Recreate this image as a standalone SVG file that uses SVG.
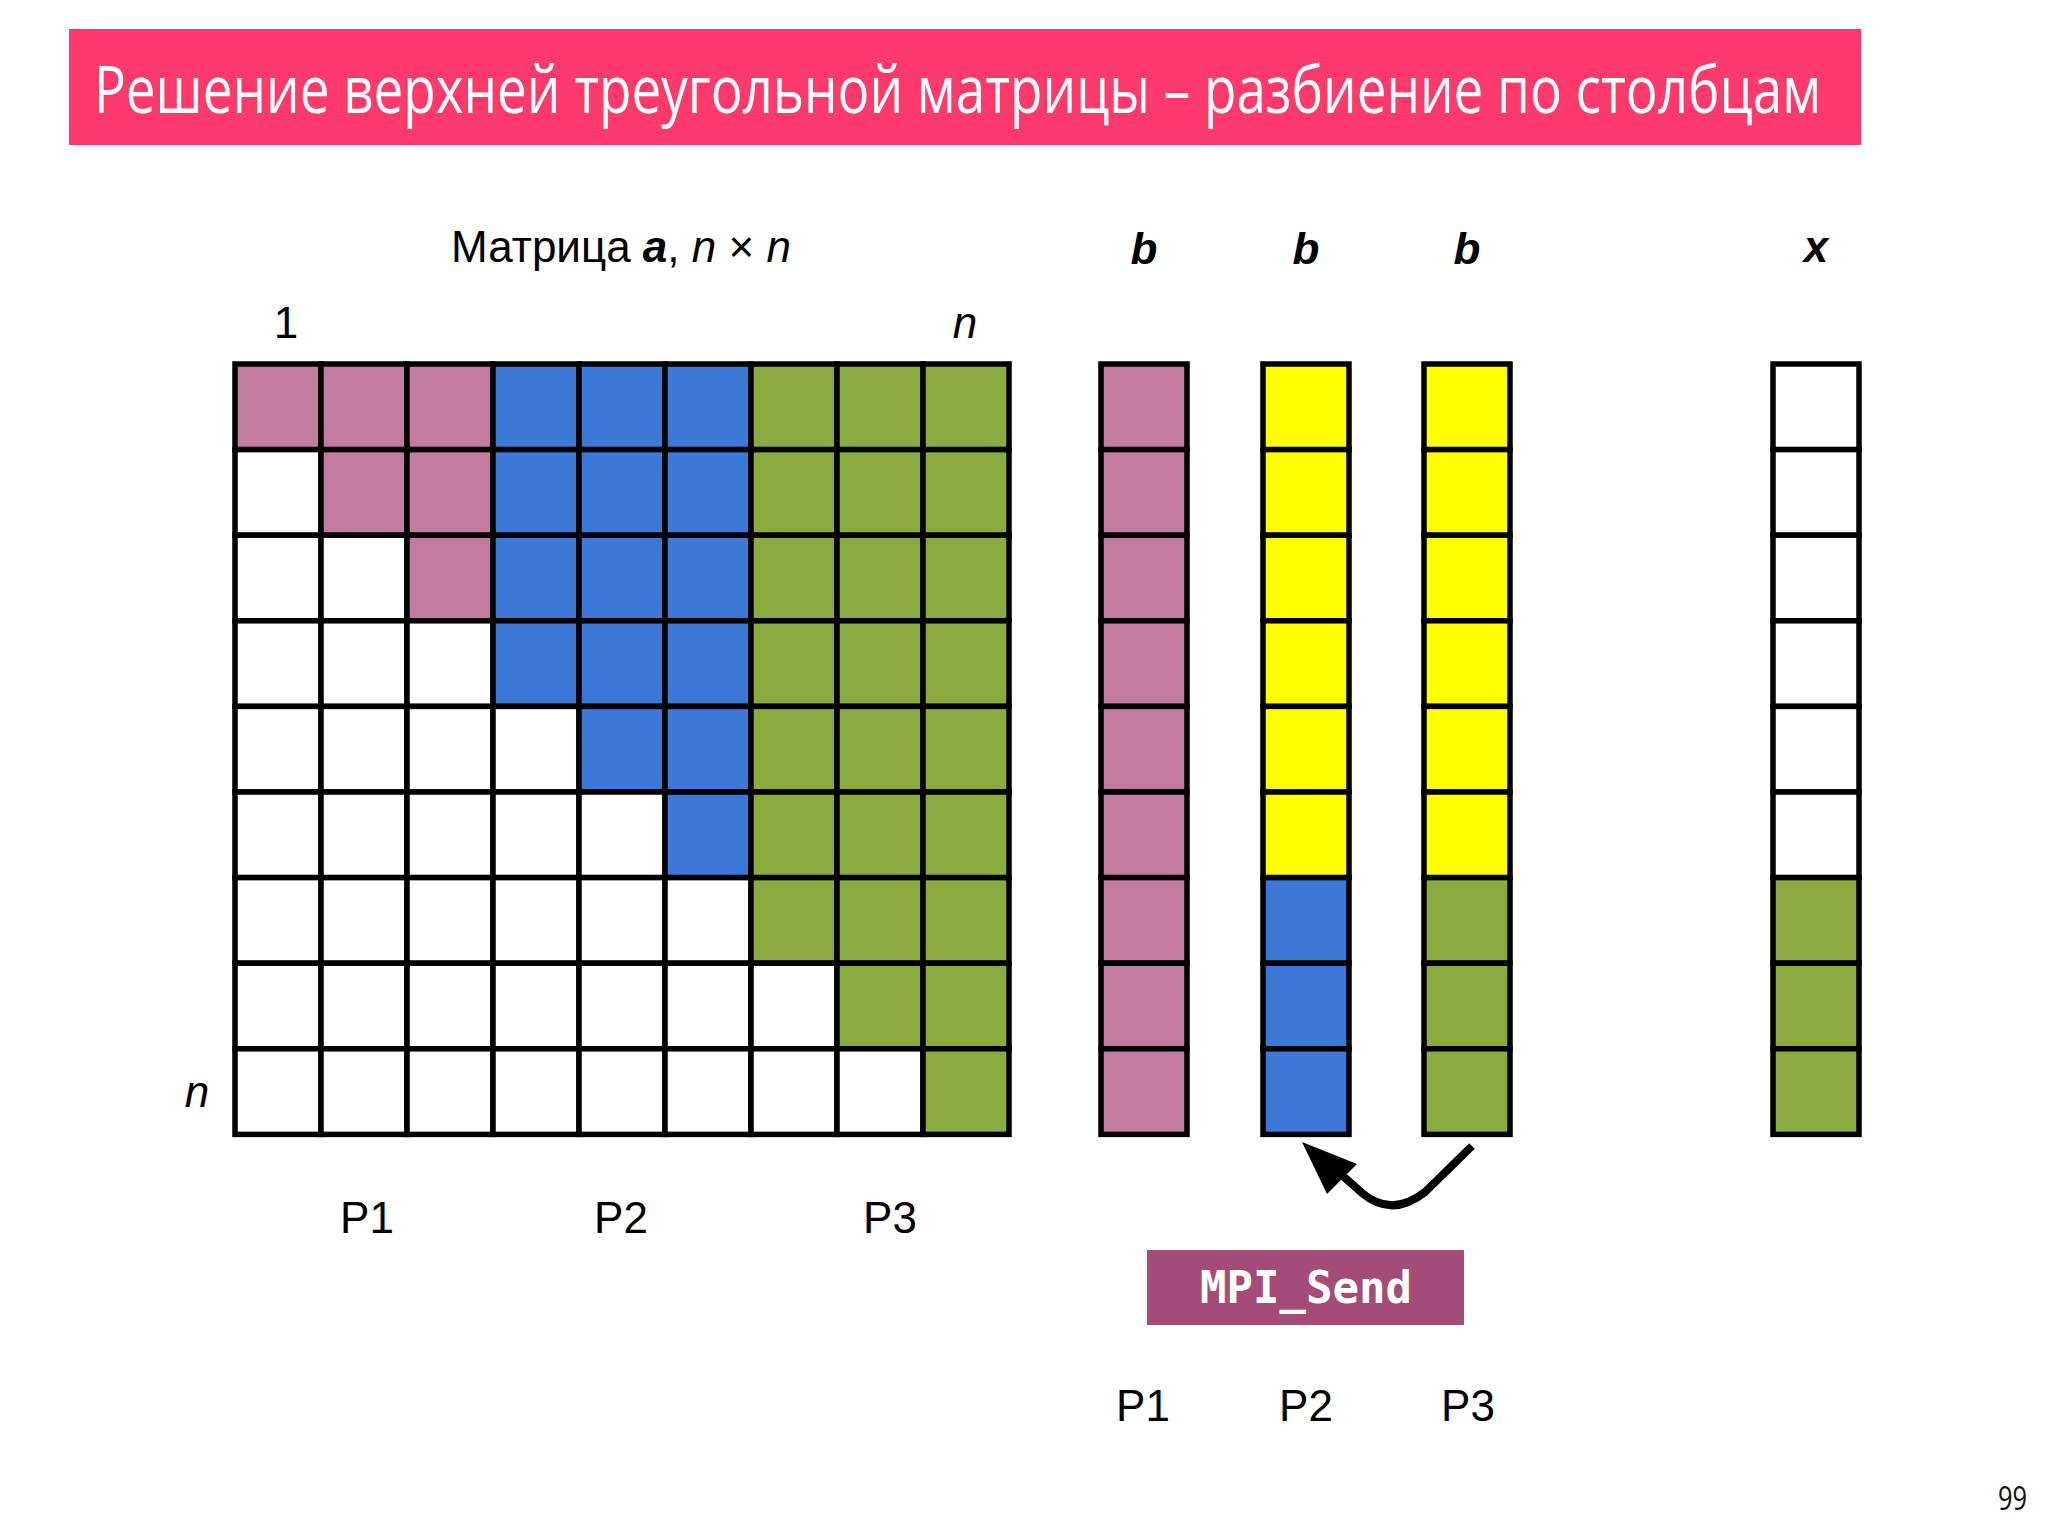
<svg xmlns="http://www.w3.org/2000/svg" width="2048" height="1536" viewBox="0 0 2048 1536">
<style>
.c{stroke:#000;stroke-width:5.5}
.p{fill:#C47BA0}
.bl{fill:#3C78D8}
.g{fill:#8AAB40}
.y{fill:#FFFF00}
.w{fill:#FFFFFF}
.lbl{font-family:"Liberation Sans",Arial,sans-serif;font-size:44px;fill:#000;text-anchor:middle}
.it{font-style:italic}
.bi{font-style:italic;font-weight:bold}
</style>
<rect width="2048" height="1536" fill="#FFFFFF"/>
<g id="title">
<rect x="69" y="29" width="1792" height="116" fill="#FE3A6C"/>
<text x="94" y="113" font-family="'Open Sans','DejaVu Sans',sans-serif" font-size="66" fill="#FFFFFF" textLength="1727" lengthAdjust="spacingAndGlyphs">Решение верхней треугольной матрицы – разбиение по столбцам</text>
</g>
<g id="labels">
<text class="lbl" x="621" y="262">Матрица <tspan font-weight="bold" font-style="italic">a</tspan>, <tspan font-style="italic">n</tspan> × <tspan font-style="italic">n</tspan></text>
<text class="lbl" x="286" y="338">1</text>
<text class="lbl it" x="965" y="338">n</text>
<text class="lbl it" x="197" y="1107">n</text>
<text class="lbl" x="367" y="1233">P1</text>
<text class="lbl" x="621" y="1233">P2</text>
<text class="lbl" x="890" y="1233">P3</text>
<text class="lbl bi" x="1144" y="264">b</text>
<text class="lbl bi" x="1306" y="264">b</text>
<text class="lbl bi" x="1467" y="264">b</text>
<text class="lbl bi" x="1816" y="262">x</text>
<text class="lbl" x="1143" y="1421">P1</text>
<text class="lbl" x="1306" y="1421">P2</text>
<text class="lbl" x="1468" y="1421">P3</text>
</g>
<g id="matrix-a">
<rect class="c p" x="235" y="364" width="86" height="85.6"/><rect class="c p" x="321" y="364" width="86" height="85.6"/><rect class="c p" x="407" y="364" width="86" height="85.6"/><rect class="c bl" x="493" y="364" width="86" height="85.6"/><rect class="c bl" x="579" y="364" width="86" height="85.6"/><rect class="c bl" x="665" y="364" width="86" height="85.6"/><rect class="c g" x="751" y="364" width="86" height="85.6"/><rect class="c g" x="837" y="364" width="86" height="85.6"/><rect class="c g" x="923" y="364" width="86" height="85.6"/>
<rect class="c w" x="235" y="449.6" width="86" height="85.6"/><rect class="c p" x="321" y="449.6" width="86" height="85.6"/><rect class="c p" x="407" y="449.6" width="86" height="85.6"/><rect class="c bl" x="493" y="449.6" width="86" height="85.6"/><rect class="c bl" x="579" y="449.6" width="86" height="85.6"/><rect class="c bl" x="665" y="449.6" width="86" height="85.6"/><rect class="c g" x="751" y="449.6" width="86" height="85.6"/><rect class="c g" x="837" y="449.6" width="86" height="85.6"/><rect class="c g" x="923" y="449.6" width="86" height="85.6"/>
<rect class="c w" x="235" y="535.2" width="86" height="85.6"/><rect class="c w" x="321" y="535.2" width="86" height="85.6"/><rect class="c p" x="407" y="535.2" width="86" height="85.6"/><rect class="c bl" x="493" y="535.2" width="86" height="85.6"/><rect class="c bl" x="579" y="535.2" width="86" height="85.6"/><rect class="c bl" x="665" y="535.2" width="86" height="85.6"/><rect class="c g" x="751" y="535.2" width="86" height="85.6"/><rect class="c g" x="837" y="535.2" width="86" height="85.6"/><rect class="c g" x="923" y="535.2" width="86" height="85.6"/>
<rect class="c w" x="235" y="620.8" width="86" height="85.6"/><rect class="c w" x="321" y="620.8" width="86" height="85.6"/><rect class="c w" x="407" y="620.8" width="86" height="85.6"/><rect class="c bl" x="493" y="620.8" width="86" height="85.6"/><rect class="c bl" x="579" y="620.8" width="86" height="85.6"/><rect class="c bl" x="665" y="620.8" width="86" height="85.6"/><rect class="c g" x="751" y="620.8" width="86" height="85.6"/><rect class="c g" x="837" y="620.8" width="86" height="85.6"/><rect class="c g" x="923" y="620.8" width="86" height="85.6"/>
<rect class="c w" x="235" y="706.4" width="86" height="85.6"/><rect class="c w" x="321" y="706.4" width="86" height="85.6"/><rect class="c w" x="407" y="706.4" width="86" height="85.6"/><rect class="c w" x="493" y="706.4" width="86" height="85.6"/><rect class="c bl" x="579" y="706.4" width="86" height="85.6"/><rect class="c bl" x="665" y="706.4" width="86" height="85.6"/><rect class="c g" x="751" y="706.4" width="86" height="85.6"/><rect class="c g" x="837" y="706.4" width="86" height="85.6"/><rect class="c g" x="923" y="706.4" width="86" height="85.6"/>
<rect class="c w" x="235" y="792" width="86" height="85.6"/><rect class="c w" x="321" y="792" width="86" height="85.6"/><rect class="c w" x="407" y="792" width="86" height="85.6"/><rect class="c w" x="493" y="792" width="86" height="85.6"/><rect class="c w" x="579" y="792" width="86" height="85.6"/><rect class="c bl" x="665" y="792" width="86" height="85.6"/><rect class="c g" x="751" y="792" width="86" height="85.6"/><rect class="c g" x="837" y="792" width="86" height="85.6"/><rect class="c g" x="923" y="792" width="86" height="85.6"/>
<rect class="c w" x="235" y="877.6" width="86" height="85.6"/><rect class="c w" x="321" y="877.6" width="86" height="85.6"/><rect class="c w" x="407" y="877.6" width="86" height="85.6"/><rect class="c w" x="493" y="877.6" width="86" height="85.6"/><rect class="c w" x="579" y="877.6" width="86" height="85.6"/><rect class="c w" x="665" y="877.6" width="86" height="85.6"/><rect class="c g" x="751" y="877.6" width="86" height="85.6"/><rect class="c g" x="837" y="877.6" width="86" height="85.6"/><rect class="c g" x="923" y="877.6" width="86" height="85.6"/>
<rect class="c w" x="235" y="963.2" width="86" height="85.6"/><rect class="c w" x="321" y="963.2" width="86" height="85.6"/><rect class="c w" x="407" y="963.2" width="86" height="85.6"/><rect class="c w" x="493" y="963.2" width="86" height="85.6"/><rect class="c w" x="579" y="963.2" width="86" height="85.6"/><rect class="c w" x="665" y="963.2" width="86" height="85.6"/><rect class="c w" x="751" y="963.2" width="86" height="85.6"/><rect class="c g" x="837" y="963.2" width="86" height="85.6"/><rect class="c g" x="923" y="963.2" width="86" height="85.6"/>
<rect class="c w" x="235" y="1048.8" width="86" height="85.6"/><rect class="c w" x="321" y="1048.8" width="86" height="85.6"/><rect class="c w" x="407" y="1048.8" width="86" height="85.6"/><rect class="c w" x="493" y="1048.8" width="86" height="85.6"/><rect class="c w" x="579" y="1048.8" width="86" height="85.6"/><rect class="c w" x="665" y="1048.8" width="86" height="85.6"/><rect class="c w" x="751" y="1048.8" width="86" height="85.6"/><rect class="c w" x="837" y="1048.8" width="86" height="85.6"/><rect class="c g" x="923" y="1048.8" width="86" height="85.6"/>
</g>
<g id="vec-b-p1">
<rect class="c p" x="1101" y="364" width="86" height="85.6"/><rect class="c p" x="1101" y="449.6" width="86" height="85.6"/><rect class="c p" x="1101" y="535.2" width="86" height="85.6"/><rect class="c p" x="1101" y="620.8" width="86" height="85.6"/><rect class="c p" x="1101" y="706.4" width="86" height="85.6"/><rect class="c p" x="1101" y="792" width="86" height="85.6"/><rect class="c p" x="1101" y="877.6" width="86" height="85.6"/><rect class="c p" x="1101" y="963.2" width="86" height="85.6"/><rect class="c p" x="1101" y="1048.8" width="86" height="85.6"/>
</g>
<g id="vec-b-p2">
<rect class="c y" x="1263" y="364" width="86" height="85.6"/><rect class="c y" x="1263" y="449.6" width="86" height="85.6"/><rect class="c y" x="1263" y="535.2" width="86" height="85.6"/><rect class="c y" x="1263" y="620.8" width="86" height="85.6"/><rect class="c y" x="1263" y="706.4" width="86" height="85.6"/><rect class="c y" x="1263" y="792" width="86" height="85.6"/><rect class="c bl" x="1263" y="877.6" width="86" height="85.6"/><rect class="c bl" x="1263" y="963.2" width="86" height="85.6"/><rect class="c bl" x="1263" y="1048.8" width="86" height="85.6"/>
</g>
<g id="vec-b-p3">
<rect class="c y" x="1424" y="364" width="86" height="85.6"/><rect class="c y" x="1424" y="449.6" width="86" height="85.6"/><rect class="c y" x="1424" y="535.2" width="86" height="85.6"/><rect class="c y" x="1424" y="620.8" width="86" height="85.6"/><rect class="c y" x="1424" y="706.4" width="86" height="85.6"/><rect class="c y" x="1424" y="792" width="86" height="85.6"/><rect class="c g" x="1424" y="877.6" width="86" height="85.6"/><rect class="c g" x="1424" y="963.2" width="86" height="85.6"/><rect class="c g" x="1424" y="1048.8" width="86" height="85.6"/>
</g>
<g id="vec-x">
<rect class="c w" x="1773" y="364" width="86" height="85.6"/><rect class="c w" x="1773" y="449.6" width="86" height="85.6"/><rect class="c w" x="1773" y="535.2" width="86" height="85.6"/><rect class="c w" x="1773" y="620.8" width="86" height="85.6"/><rect class="c w" x="1773" y="706.4" width="86" height="85.6"/><rect class="c w" x="1773" y="792" width="86" height="85.6"/><rect class="c g" x="1773" y="877.6" width="86" height="85.6"/><rect class="c g" x="1773" y="963.2" width="86" height="85.6"/><rect class="c g" x="1773" y="1048.8" width="86" height="85.6"/>
</g>
<g id="connectors">
<path d="M1472 1146 L1425 1192 Q1392 1218 1362 1193 L1343 1176" fill="none" stroke="#000" stroke-width="8"/>
<polygon points="1302,1142 1357,1164 1327,1194" fill="#000"/>
</g>
<g id="mpi-send">
<rect x="1147" y="1250" width="317" height="75" fill="#A54B77"/>
<text x="1306" y="1303" font-family="'DejaVu Sans Mono','Liberation Mono',monospace" font-size="44" font-weight="bold" fill="#FFFFFF" text-anchor="middle">MPI_Send</text>
</g>
<g id="page-number">
<text x="2027" y="1510" font-family="'Open Sans','DejaVu Sans',sans-serif" font-size="32" fill="#111" text-anchor="end" textLength="29" lengthAdjust="spacingAndGlyphs">99</text>
</g>
</svg>
